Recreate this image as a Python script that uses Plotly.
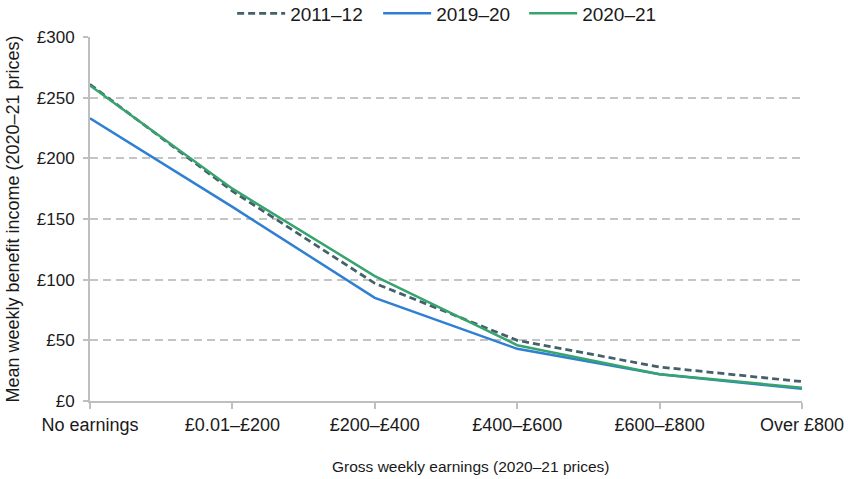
import plotly.graph_objects as go

categories = ["No earnings", "£0.01–£200", "£200–£400", "£400–£600", "£600–£800", "Over £800"]
s2011 = [261, 173, 97, 50, 28, 16]
s2019 = [233, 160, 85, 43, 22, 10]
s2020 = [260, 175, 103, 46, 22, 11]

y_ticks = [0, 50, 100, 150, 200, 250, 300]
y_labels = ["£0", "£50", "£100", "£150", "£200", "£250", "£300"]
x_title = "Gross weekly earnings (2020–21 prices)"
y_title = "Mean weekly benefit income (2020–21 prices)"

fig = go.Figure()
fig.add_trace(go.Scatter(x=categories, y=s2011, name="2011–12", mode="lines",
                         line=dict(color="#44606a", width=2.75, dash="7px,4px")))
fig.add_trace(go.Scatter(x=categories, y=s2019, name="2019–20", mode="lines",
                         line=dict(color="#2f7fd2", width=2.5)))
fig.add_trace(go.Scatter(x=categories, y=s2020, name="2020–21", mode="lines",
                         line=dict(color="#37a46f", width=2.5)))

fig.add_annotation(text=x_title, xref="paper", yref="paper", x=0.535, y=-0.1786,
                   xanchor="center", yanchor="middle", showarrow=False,
                   font=dict(size=15.5, color="#1a1a1a"))

fig.update_layout(
    width=848, height=479,
    margin=dict(l=90, r=46, t=37, b=78),
    paper_bgcolor="white", plot_bgcolor="white",
    font=dict(family="Liberation Sans, Arial, sans-serif", size=17, color="#1a1a1a"),
    legend=dict(orientation="h", x=0.532, xanchor="center", xref="container",
                y=0.972, yanchor="middle", yref="container",
                font=dict(size=19), itemwidth=48, traceorder="normal",
                entrywidth=83, entrywidthmode="pixels"),
    xaxis=dict(
        type="category", range=[0, 5], automargin=False,
        showline=True, linecolor="#bfbfbf", linewidth=2,
        ticks="outside", ticklen=6, tickcolor="#bfbfbf", tickwidth=1.5,
        showgrid=False, zeroline=False,
        tickfont=dict(size=18),
    ),
    yaxis=dict(
        range=[0, 300], tickvals=y_ticks, ticktext=y_labels, automargin=False,
        showline=True, linecolor="#bfbfbf", linewidth=2,
        ticks="outside", ticklen=5, tickcolor="#bfbfbf", tickwidth=1.5,
        ticklabelstandoff=5,
        showgrid=True, gridcolor="#c4c4c4", griddash="8px,5px", gridwidth=1.5,
        zeroline=False,
        tickfont=dict(size=17),
        title=dict(text=y_title, font=dict(size=18), standoff=12),
    ),
)

fig.write_html("out.html", config={"displayModeBar": False},
               post_script="document.body.style.margin='0';")
